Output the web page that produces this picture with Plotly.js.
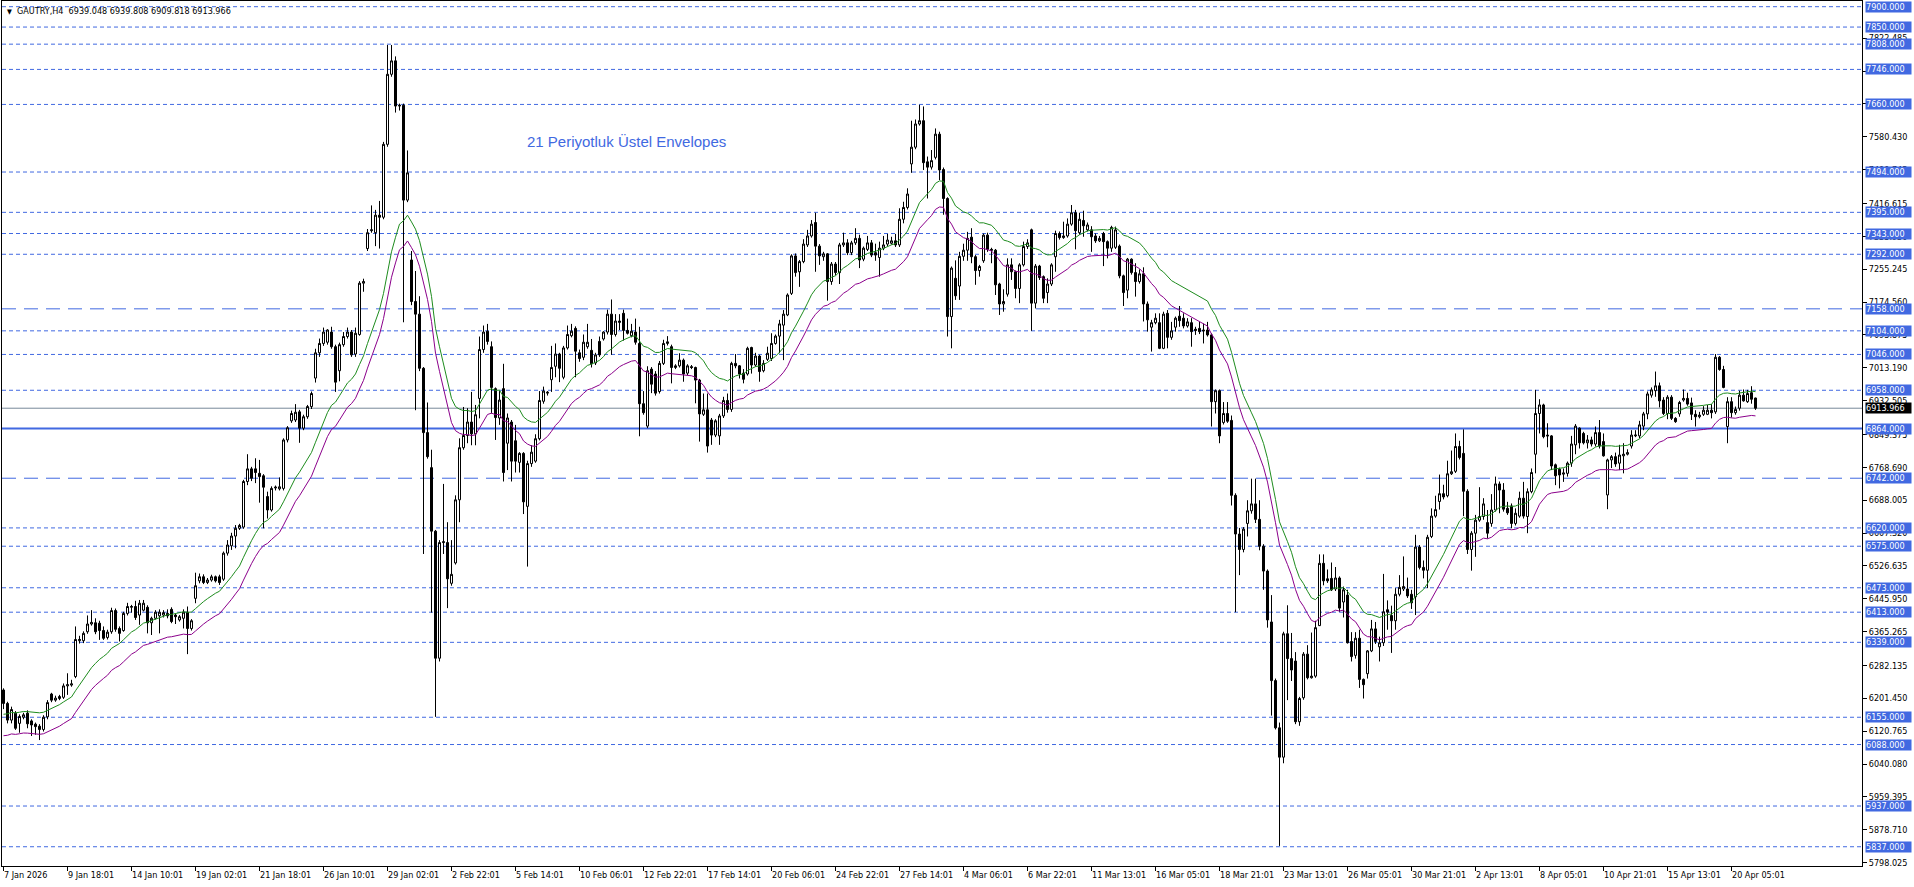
<!DOCTYPE html>
<html><head><meta charset="utf-8">
<script src="https://cdn.plot.ly/plotly-3.0.1.min.js"></script>
<style>html,body{margin:0;padding:0;background:#fff;overflow:hidden}</style>
</head><body><div id="chart" style="width:1914px;height:887px"></div>
<script>
// ---- DATA (H4 bars, GAUTRY) ----
const opens=[
6222,6189,6148,6165,6140,6155,6165,6146,6138,6133,
6125,6156,6212,6197,6201,6204,6232,6234,6255,6343,
6343,6365,6384,6387,6386,6368,6351,6365,6417,6373,
6368,6410,6425,6427,6406,6418,6425,6387,6398,6404,
6406,6410,6420,6406,6394,6398,6413,6373,6447,6490,
6500,6486,6492,6500,6500,6494,6558,6576,6600,6619,
6622,6734,6765,6765,6754,6748,6697,6664,6718,6716,
6717,6836,6883,6885,6905,6865,6893,6918,6988,7050,
7073,7076,7101,7065,7006,7070,7090,7101,7047,7095,
7221,7306,7350,7345,7388,7383,7562,7734,7767,7656,
7658,7425,7278,7176,7145,7012,6854,6768,6612,6300,
6584,6584,6484,6534,6689,6817,6847,6880,6851,6938,
7058,7103,7065,6962,6890,6962,6828,6880,6834,6781,
6803,6673,6778,6784,6839,6931,6951,6984,7017,7047,
6990,7062,7092,7110,7050,7039,7065,7056,7025,7078,
7084,7101,7145,7095,7128,7147,7105,7092,7101,7073,
6925,6870,7010,6998,6955,7024,7073,7065,7014,7018,
7032,7000,7016,7014,6983,6899,6910,6885,6848,6846,
6895,6933,6911,7024,7018,7000,6998,7063,7020,7042,
7006,7034,7036,7073,7091,7118,7143,7196,7288,7249,
7274,7315,7337,7370,7312,7286,7293,7225,7268,7247,
7315,7320,7296,7320,7331,7280,7304,7320,7296,7284,
7307,7317,7319,7325,7315,7378,7407,7514,7555,7612,
7620,7519,7506,7530,7587,7500,7429,7139,7233,7214,
7287,7302,7334,7286,7252,7276,7339,7304,7302,7219,
7170,7194,7266,7249,7208,7266,7311,7352,7172,7263,
7237,7198,7219,7286,7343,7333,7337,7366,7394,7345,
7375,7352,7352,7337,7325,7343,7323,7307,7309,7312,
7239,7204,7280,7247,7225,7244,7170,7113,7124,7124,
7061,7147,7088,7113,7140,7135,7116,7124,7108,7110,
7106,7106,7094,6930,6957,6879,6901,6884,6700,6605,
6567,6631,6662,6679,6641,6575,6514,6389,6245,6129,
6057,6360,6299,6293,6144,6203,6310,6252,6256,6380,
6533,6495,6496,6470,6497,6438,6455,6341,6307,6349,
6248,6262,6318,6372,6328,6338,6419,6405,6392,6457,
6470,6470,6457,6451,6573,6523,6516,6599,6649,6685,
6704,6699,6753,6759,6820,6803,6710,6567,6607,6639,
6648,6633,6631,6664,6728,6713,6668,6674,6631,6649,
6693,6648,6709,6801,6901,6922,6848,6846,6775,6764,
6752,6754,6779,6824,6865,6852,6829,6836,6826,6854,
6832,6701,6787,6795,6779,6797,6801,6821,6846,6846,
6870,6900,6946,6957,6969,6934,6901,6941,6889,6900,
6934,6938,6927,6899,6893,6899,6899,6909,6905,7039,
7009,6869,6930,6903,6914,6946,6930,6952,6939.048];
const highs=[
6226,6193,6181,6170,6162,6166,6172,6150,6142,6138,
6160,6197,6215,6208,6210,6238,6263,6247,6378,6355,
6366,6405,6418,6398,6392,6378,6370,6424,6422,6378,
6414,6436,6431,6441,6443,6443,6430,6402,6418,6420,
6418,6420,6425,6410,6406,6420,6427,6396,6510,6508,
6506,6497,6505,6503,6505,6562,6590,6608,6627,6630,
6738,6801,6770,6791,6787,6752,6709,6722,6724,6744,
6840,6870,6908,6924,6910,6898,6922,6955,7060,7085,
7112,7108,7114,7070,7075,7101,7112,7106,7112,7226,
7232,7354,7412,7401,7423,7568,7806,7806,7778,7662,
7662,7547,7300,7251,7189,7015,6928,6812,6615,6590,
6728,6634,6590,6700,6840,6917,6914,6954,6922,7090,
7117,7121,7078,6965,6956,7023,6901,6885,6873,6806,
6806,6785,6823,6850,6956,6967,6956,7067,7073,7050,
7067,7117,7121,7115,7058,7095,7121,7084,7050,7090,
7103,7156,7181,7145,7145,7156,7134,7121,7134,7114,
6956,7017,7015,7005,7030,7082,7091,7070,7022,7049,
7036,7022,7020,7016,6986,6950,6950,6890,6887,6900,
6942,6950,7028,7047,7020,7010,7065,7065,7050,7045,
7032,7065,7098,7095,7131,7155,7196,7292,7294,7278,
7329,7352,7376,7394,7317,7298,7295,7273,7273,7320,
7345,7329,7325,7356,7340,7311,7337,7327,7318,7323,
7337,7342,7335,7342,7405,7421,7454,7620,7623,7659,
7655,7532,7548,7601,7593,7505,7432,7262,7277,7298,
7318,7347,7356,7290,7266,7343,7345,7308,7305,7222,
7206,7282,7282,7252,7270,7323,7329,7355,7268,7266,
7240,7233,7270,7350,7348,7372,7380,7413,7401,7394,
7399,7370,7361,7343,7337,7347,7326,7362,7360,7316,
7242,7283,7282,7270,7255,7260,7176,7131,7147,7147,
7151,7155,7126,7139,7165,7147,7135,7135,7114,7126,
7122,7126,7098,6960,6960,6929,6929,6896,6705,6620,
6622,6688,6741,6741,6688,6580,6518,6455,6250,6142,
6365,6430,6362,6315,6205,6315,6332,6363,6392,6555,
6555,6518,6535,6524,6501,6476,6468,6364,6364,6370,
6250,6320,6394,6389,6353,6507,6442,6429,6472,6504,
6550,6498,6468,6603,6578,6540,6603,6668,6699,6751,
6726,6785,6810,6852,6834,6862,6715,6612,6652,6720,
6693,6664,6703,6746,6734,6730,6684,6680,6668,6709,
6733,6717,6766,6959,6936,6925,6877,6848,6778,6768,
6766,6783,6846,6875,6867,6856,6848,6844,6869,6885,
6852,6790,6799,6805,6824,6828,6813,6860,6860,6883,
6905,6955,6965,7004,6977,6941,6946,6946,6892,6932,
6960,6952,6940,6909,6905,6919,6922,6924,7047,7042,
7018,6941,6941,6918,6957,6960,6959,6968,6939.808];
const lows=[
6175,6140,6140,6124,6117,6150,6128,6109,6112,6099,
6120,6150,6192,6193,6197,6200,6210,6230,6251,6336,
6337,6360,6380,6359,6345,6345,6346,6360,6365,6341,
6365,6405,6412,6394,6382,6415,6361,6357,6395,6361,
6400,6398,6386,6384,6390,6373,6310,6368,6435,6484,
6482,6482,6488,6486,6480,6490,6552,6566,6570,6615,
6618,6725,6735,6730,6682,6619,6643,6660,6712,6712,
6712,6830,6878,6880,6829,6860,6888,6912,6977,7040,
7067,7070,7060,6954,6980,7065,7085,7040,7040,7092,
7200,7300,7345,7312,7306,7378,7556,7728,7640,7645,
7125,7420,7167,6909,7005,6556,6790,6412,6156,6292,
6556,6423,6478,6530,6634,6812,6828,6823,6823,6889,
7050,7070,6901,6836,6873,6734,6762,6734,6756,6756,
6654,6525,6770,6780,6835,6925,6945,6954,6990,6978,
6985,7058,7088,6990,7028,7032,7060,7014,7020,7040,
7080,7095,7045,7090,7106,7080,7095,7088,7070,6845,
6898,6865,6951,6945,6950,7020,7068,6975,7010,7014,
6979,6995,7010,6926,6832,6895,6805,6824,6843,6824,
6890,6903,6905,7012,6987,6975,6994,6999,7016,6979,
7002,7030,7030,7070,7049,7032,7140,7192,7237,7212,
7270,7310,7333,7249,7266,7276,7178,7217,7240,7219,
7310,7290,7290,7315,7258,7275,7300,7285,7276,7237,
7302,7312,7316,7310,7310,7368,7402,7492,7550,7608,
7499,7429,7500,7525,7474,7389,7090,7061,7180,7180,
7276,7276,7270,7217,7237,7271,7298,7270,7192,7143,
7151,7188,7229,7184,7172,7262,7305,7104,7159,7229,
7172,7172,7214,7249,7328,7330,7333,7362,7304,7340,
7335,7348,7298,7320,7322,7263,7282,7298,7305,7233,
7165,7184,7242,7188,7220,7127,7102,7053,7120,7059,
7059,7061,7082,7102,7114,7110,7112,7065,7094,7096,
7073,7090,6869,6901,6828,6874,6878,6675,6413,6504,
6560,6599,6655,6632,6565,6468,6375,6159,6125,5839,
6042,6197,6244,6138,6134,6198,6248,6250,6252,6379,
6479,6485,6465,6465,6414,6400,6336,6292,6299,6227,
6201,6250,6315,6335,6292,6330,6370,6313,6370,6452,
6465,6448,6421,6406,6518,6496,6472,6595,6645,6665,
6690,6695,6750,6755,6788,6649,6556,6515,6549,6635,
6640,6594,6623,6660,6656,6660,6652,6619,6626,6645,
6643,6607,6705,6754,6852,6840,6818,6762,6725,6717,
6733,6746,6770,6801,6815,6825,6815,6820,6820,6815,
6795,6666,6767,6770,6762,6754,6798,6815,6843,6840,
6860,6887,6940,6942,6916,6897,6887,6885,6878,6893,
6930,6920,6885,6869,6889,6895,6897,6889,6900,7006,
6963,6828,6891,6898,6908,6930,6927,6925,6909.818];
const closes=[
6189,6148,6174,6128,6157,6161,6139,6136,6132,6125,
6155,6191,6197,6202,6206,6232,6235,6237,6346,6346,
6361,6384,6388,6365,6368,6349,6364,6417,6371,6361,
6410,6427,6427,6400,6435,6435,6387,6398,6413,6413,
6412,6404,6390,6402,6402,6413,6373,6392,6478,6500,
6486,6492,6500,6490,6486,6558,6578,6600,6619,6626,
6734,6765,6742,6756,6746,6720,6664,6717,6720,6721,
6836,6866,6901,6904,6865,6893,6918,6950,7050,7073,
7101,7106,7065,6978,7070,7090,7101,7045,7098,7221,
7225,7345,7352,7388,7383,7562,7734,7767,7656,7658,
7425,7492,7176,7145,7012,6854,6795,6612,6300,6584,
6586,6495,6506,6689,6817,6847,6880,6851,6898,7058,
7101,7078,6965,6891,6934,6756,6890,6784,6784,6803,
6684,6778,6806,6839,6933,6956,6953,7014,7047,7012,
7062,7095,7103,7054,7036,7076,7076,7023,7045,7045,
7101,7145,7095,7128,7125,7105,7098,7103,7076,6925,
6903,7006,6973,6951,7024,7073,7077,7014,7018,7032,
6998,7018,7014,6983,6900,6910,6821,6848,6883,6895,
6933,6911,7024,7018,6998,6985,7061,7020,7042,7004,
7024,7049,7073,7091,7121,7145,7192,7288,7247,7274,
7317,7337,7366,7312,7288,7293,7225,7268,7247,7315,
7320,7296,7320,7331,7278,7307,7320,7290,7290,7307,
7315,7327,7325,7315,7378,7407,7440,7555,7612,7620,
7517,7506,7522,7587,7499,7429,7139,7258,7190,7287,
7302,7331,7286,7252,7262,7339,7304,7302,7217,7170,
7176,7266,7249,7208,7266,7311,7320,7172,7263,7235,
7184,7219,7266,7343,7333,7337,7366,7394,7350,7378,
7362,7364,7335,7325,7331,7323,7307,7358,7352,7239,
7198,7280,7247,7225,7244,7170,7131,7124,7135,7061,
7145,7088,7104,7135,7129,7116,7126,7102,7105,7102,
7104,7094,6930,6957,6846,6901,6882,6700,6605,6567,
6617,6662,6679,6641,6575,6514,6394,6245,6129,6057,
6360,6299,6271,6144,6201,6310,6252,6256,6375,6533,
6490,6490,6468,6497,6423,6468,6338,6304,6349,6248,
6235,6318,6372,6341,6338,6414,6413,6392,6457,6474,
6476,6453,6436,6573,6523,6516,6597,6649,6665,6704,
6696,6753,6758,6820,6793,6710,6567,6607,6639,6648,
6679,6607,6664,6728,6713,6666,6657,6631,6656,6693,
6649,6709,6756,6901,6922,6844,6846,6772,6748,6750,
6755,6779,6826,6870,6829,6829,6836,6826,6854,6821,
6797,6787,6795,6777,6799,6801,6805,6848,6848,6873,
6900,6949,6959,6969,6932,6901,6941,6889,6881,6928,
6938,6924,6899,6893,6897,6909,6909,6903,7039,7009,
6965,6930,6903,6911,6946,6932,6950,6936,6913.966];

const dateLabels=["7 Jan 2026","9 Jan 18:01","14 Jan 10:01","19 Jan 02:01","21 Jan 18:01","26 Jan 10:01","29 Jan 02:01","2 Feb 22:01","5 Feb 14:01","10 Feb 06:01","12 Feb 22:01","17 Feb 14:01","20 Feb 06:01","24 Feb 22:01","27 Feb 14:01","4 Mar 06:01","6 Mar 22:01","11 Mar 13:01","16 Mar 05:01","18 Mar 21:01","23 Mar 13:01","26 Mar 05:01","30 Mar 21:01","2 Apr 13:01","8 Apr 05:01","10 Apr 21:01","15 Apr 13:01","20 Apr 05:01"];
const barsPerLabel=16;

const priceTicks=[7822.485,7741.800,7661.115,7580.430,7499.745,7416.615,7335.930,7255.245,7174.560,7093.875,7013.190,6932.505,6849.375,6768.690,6688.005,6607.320,6526.635,6445.950,6365.265,6282.135,6201.450,6120.765,6040.080,5959.395,5878.710,5798.025];

const dottedLevels=[7900,7850,7808,7746,7660,7494,7395,7343,7292,7104,7046,6958,6620,6575,6473,6413,6339,6155,6088,5937,5837];
const longDashLevels=[7158,6742];
const solidLevels=[6864];
const lastPrice=6913.966;

const headerText="GAUTRY,H4";
const headerOHLC=[6939.048,6939.808,6909.818,6913.966];
const noteText="21 Periyotluk Üstel Envelopes";
const noteBar=130.25, notePrice=7570;

// Envelopes indicator settings (21-period exponential MA, +/- deviation %)
const emaPeriod=21, envDeviation=0.43, emaStart=6136;

// ---- BUILD ----
const xs=closes.map((_,i)=>i);
const k=2/(emaPeriod+1);
const ema=[];
closes.forEach((c,i)=>{ ema.push(i===0?emaStart:ema[i-1]+k*(c-ema[i-1])); });
const upper=ema.map(v=>v*(1+envDeviation/100));
const lower=ema.map(v=>v*(1-envDeviation/100));

const FONT="'DejaVu Sans Condensed','DejaVu Sans',sans-serif";
const BLUE="#4169E1";

const traces=[
 {type:'candlestick',x:xs,open:opens,high:highs,low:lows,close:closes,
  increasing:{line:{color:'#000',width:1},fillcolor:'#ffffff'},
  decreasing:{line:{color:'#000',width:1},fillcolor:'#000000'},
  whiskerwidth:0,hoverinfo:'skip',showlegend:false},
 {type:'scatter',mode:'lines',x:xs,y:upper,line:{color:'#1E8C1E',width:1},hoverinfo:'skip',showlegend:false},
 {type:'scatter',mode:'lines',x:xs,y:lower,line:{color:'#8B008B',width:1},hoverinfo:'skip',showlegend:false}
];

const shapes=[];
dottedLevels.forEach(v=>shapes.push({type:'line',xref:'paper',x0:0,x1:1,yref:'y',y0:v,y1:v,layer:'below',line:{color:BLUE,width:1,dash:'4px,3px'}}));
longDashLevels.forEach(v=>shapes.push({type:'line',xref:'paper',x0:0,x1:1,yref:'y',y0:v,y1:v,layer:'below',line:{color:BLUE,width:1,dash:'14px,8px'}}));
solidLevels.forEach(v=>shapes.push({type:'line',xref:'paper',x0:0,x1:1,yref:'y',y0:v,y1:v,layer:'below',line:{color:BLUE,width:2}}));
shapes.push({type:'line',xref:'paper',x0:0,x1:1,yref:'y',y0:lastPrice,y1:lastPrice,layer:'below',line:{color:'#778899',width:1}});

const annotations=[];
const priceBox=(v,bg)=>({xref:'paper',x:1,xanchor:'left',xshift:3,yref:'y',y:v,yanchor:'middle',
  text:v.toFixed(3),showarrow:false,bgcolor:bg,borderpad:0,width:45,height:10,align:'left',
  font:{family:FONT,size:9,color:'#fff'}});
dottedLevels.concat(longDashLevels,solidLevels).forEach(v=>annotations.push(priceBox(v,BLUE)));
annotations.push(priceBox(lastPrice,'#000'));
dateLabels.forEach((t,j)=>annotations.push({xref:'x',x:j*barsPerLabel,xanchor:'left',xshift:-2,yref:'paper',y:0,yanchor:'top',yshift:-2,
  text:t,showarrow:false,font:{family:FONT,size:9,color:'#000'}}));
annotations.push({xref:'paper',x:0,xanchor:'left',xshift:3,yref:'paper',y:1,yanchor:'top',yshift:-3,showarrow:false,
  text:'<span style="font-size:7px">▼</span>&nbsp;&nbsp;'+headerText+'&nbsp; '+headerOHLC.map(v=>v.toFixed(3)).join(' '),
  font:{family:FONT,size:9,color:'#000'}});
annotations.push({xref:'x',x:noteBar,xanchor:'left',yref:'y',y:notePrice,yanchor:'middle',showarrow:false,
  text:noteText,font:{family:"'Liberation Sans',Arial,sans-serif",size:15,color:BLUE}});

const layout={
 width:1914,height:887,
 margin:{l:2,r:52,t:1,b:21,pad:0},
 paper_bgcolor:'#ffffff',plot_bgcolor:'#ffffff',
 showlegend:false,
 boxgap:0.5,boxgroupgap:0,
 xaxis:{range:[-0.375,464.625],showgrid:false,zeroline:false,showline:true,mirror:true,linecolor:'#000',linewidth:1,
   ticks:'outside',ticklen:4,tickcolor:'#000',tickmode:'array',tickvals:dateLabels.map((_,j)=>j*barsPerLabel),
   showticklabels:false,rangeslider:{visible:false},fixedrange:true},
 yaxis:{side:'right',range:[5789.7,7914.0],showgrid:false,zeroline:false,showline:true,mirror:true,linecolor:'#000',linewidth:1,
   ticks:'outside',ticklen:4,tickcolor:'#000',tickmode:'array',tickvals:priceTicks,ticktext:priceTicks.map(v=>v.toFixed(3)),
   tickfont:{family:FONT,size:9,color:'#000'},fixedrange:true},
 shapes:shapes,annotations:annotations
};
Plotly.newPlot('chart',traces,layout,{staticPlot:true,displayModeBar:false});
</script></body></html>
